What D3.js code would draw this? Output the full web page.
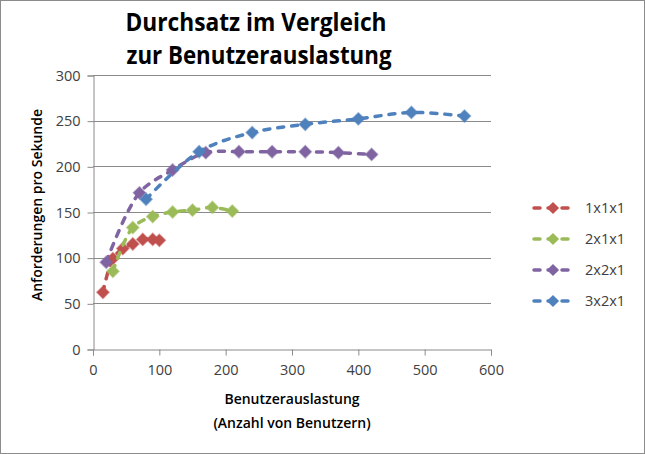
<!DOCTYPE html>
<html>
<head>
<meta charset="utf-8">
<script src="https://cdn.jsdelivr.net/npm/d3@7"></script>
<style>
  body { margin: 0; background: #fff; }
  text { font-family: "Open Sans", sans-serif; }
</style>
</head>
<body>
<div id="chart"></div>
<script>
// data
var seriesNames = ["1x1x1", "2x1x1", "2x2x1", "3x2x1"];
var colors = ["#C0504D", "#9BBB59", "#8064A2", "#4F81BD"];

var usersA = [15, 30, 45, 60, 75, 90, 100];
var reqA = [62, 99, 110, 115, 120, 120, 119];

var usersB = [30, 60, 90, 120, 150, 180, 210];
var reqB = [85, 133, 145, 150, 152, 155, 151];

var usersC = [20, 70, 120, 170, 220, 270, 320, 370, 420];
var reqC = [95, 171, 196, 215, 216, 216, 216, 215, 213];

var usersD = [80, 160, 240, 320, 400, 480, 560];
var reqD = [164, 216, 237, 246, 252, 259, 255];

var xTicks = [0, 100, 200, 300, 400, 500, 600];
var yTicks = [0, 50, 100, 150, 200, 250, 300];

var width = 645, height = 454;

var svg = d3.select("#chart").append("svg")
  .attr("width", width)
  .attr("height", height);

// outer chart border
svg.append("rect")
  .attr("x", 0.5).attr("y", 0.5)
  .attr("width", width - 1).attr("height", height - 1)
  .attr("fill", "#fff")
  .attr("stroke", "#8c8c8c");

// plot area
var plotLeft = 93, plotRight = 491, plotTop = 75, plotBottom = 349;

var x = d3.scaleLinear().domain([0, 600]).range([plotLeft, plotRight]);
var y = d3.scaleLinear().domain([0, 300]).range([plotBottom, plotTop]);

// gridlines
svg.append("g")
  .selectAll("line")
  .data(yTicks.filter(function(d) { return d > 0; }))
  .join("line")
  .attr("x1", plotLeft).attr("x2", plotRight)
  .attr("y1", function(d) { return Math.round(y(d)) + 0.5; })
  .attr("y2", function(d) { return Math.round(y(d)) + 0.5; })
  .attr("stroke", "#8a8a8a")
  .attr("stroke-width", 1);

// y axis
var yAxis = svg.append("g")
  .attr("transform", "translate(" + (plotLeft + 0.5) + ",0.5)")
  .call(d3.axisLeft(y).tickValues(yTicks).tickSizeOuter(0).tickSize(6).tickPadding(7));

// x axis
var xAxis = svg.append("g")
  .attr("transform", "translate(0," + (plotBottom + 0.5) + ")")
  .call(d3.axisBottom(x).tickValues(xTicks).tickSizeOuter(0).tickSize(6).tickPadding(9));

[xAxis, yAxis].forEach(function(ax) {
  ax.select(".domain").attr("stroke", "#8a8a8a");
  ax.selectAll(".tick line").attr("stroke", "#8a8a8a");
  ax.selectAll(".tick text")
    .attr("font-family", "Open Sans, sans-serif")
    .attr("font-size", 14.5)
    .attr("fill", "#404040");
});
xAxis.selectAll(".tick text").attr("dy", "0.71em");

// series
var all = [
  { name: seriesNames[0], color: colors[0], xs: usersA, ys: reqA },
  { name: seriesNames[1], color: colors[1], xs: usersB, ys: reqB },
  { name: seriesNames[2], color: colors[2], xs: usersC, ys: reqC },
  { name: seriesNames[3], color: colors[3], xs: usersD, ys: reqD }
];

var line = d3.line()
  .x(function(d) { return x(d[0]); })
  .y(function(d) { return y(d[1]); })
  .curve(d3.curveCatmullRom.alpha(0.5));

var diamond = d3.symbol().type(d3.symbolDiamond2).size(95);

all.forEach(function(s) {
  var pts = s.xs.map(function(v, i) { return [v, s.ys[i]]; });
  var g = svg.append("g");
  g.append("path")
    .datum(pts)
    .attr("d", line)
    .attr("fill", "none")
    .attr("stroke", s.color)
    .attr("stroke-width", 3.5)
    .attr("stroke-linecap", "round")
    .attr("stroke-dasharray", "6,8");
  g.selectAll("path.mk")
    .data(pts)
    .join("path")
    .attr("class", "mk")
    .attr("d", diamond)
    .attr("transform", function(d) { return "translate(" + x(d[0]) + "," + y(d[1]) + ")"; })
    .attr("fill", s.color)
    .attr("stroke", s.color)
    .attr("stroke-opacity", 0.5)
    .attr("stroke-width", 1.5);
});

// legend
var legend = svg.append("g");
all.forEach(function(s, i) {
  var ly = 208 + i * 31;
  legend.append("line")
    .attr("x1", 534).attr("x2", 572)
    .attr("y1", ly).attr("y2", ly)
    .attr("stroke", s.color)
    .attr("stroke-width", 3.5)
    .attr("stroke-linecap", "round")
    .attr("stroke-dasharray", "6,8");
  legend.append("path")
    .attr("d", diamond)
    .attr("transform", "translate(553," + ly + ")")
    .attr("fill", s.color);
  legend.append("text")
    .attr("x", 585).attr("y", ly + 5)
    .attr("font-size", 14.5)
    .attr("fill", "#404040")
    .text(s.name);
});

// title
var title = svg.append("g").attr("font-weight", "bold").attr("fill", "#000");
title.append("text")
  .attr("x", 256).attr("y", 31)
  .attr("text-anchor", "middle")
  .attr("font-size", 25)
  .attr("textLength", 261)
  .attr("lengthAdjust", "spacingAndGlyphs")
  .text("Durchsatz im Vergleich");
title.append("text")
  .attr("x", 259).attr("y", 64)
  .attr("text-anchor", "middle")
  .attr("font-size", 25)
  .attr("textLength", 265)
  .attr("lengthAdjust", "spacingAndGlyphs")
  .text("zur Benutzerauslastung");

// axis titles
svg.append("text")
  .attr("x", 292).attr("y", 404)
  .attr("text-anchor", "middle")
  .attr("font-size", 14)
  .attr("font-weight", 600)
  .text("Benutzerauslastung");
svg.append("text")
  .attr("x", 292).attr("y", 428)
  .attr("text-anchor", "middle")
  .attr("font-size", 14)
  .attr("font-weight", 600)
  .text("(Anzahl von Benutzern)");
svg.append("text")
  .attr("transform", "translate(42,205) rotate(-90)")
  .attr("text-anchor", "middle")
  .attr("font-size", 14)
  .attr("font-weight", 600)
  .text("Anforderungen pro Sekunde");
</script>
</body>
</html>
